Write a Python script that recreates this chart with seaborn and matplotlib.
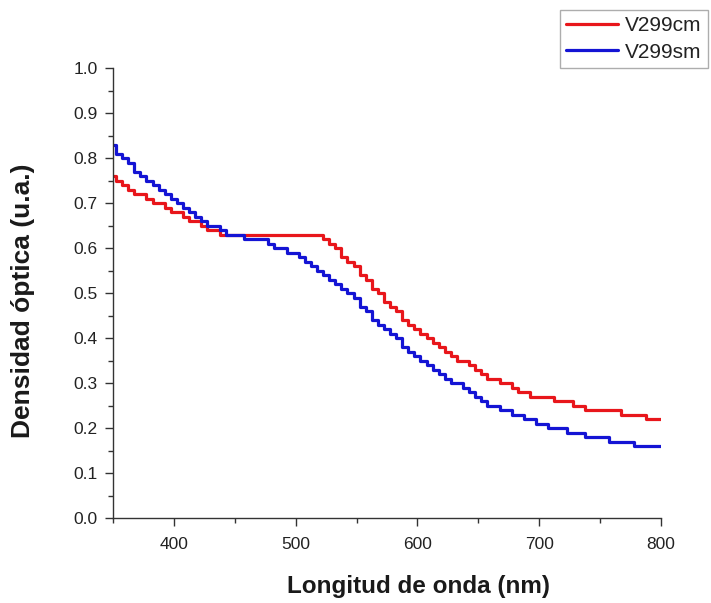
import numpy as np
import pandas as pd
import matplotlib
matplotlib.use("Agg")
import matplotlib.pyplot as plt
import seaborn as sns
from matplotlib.ticker import MultipleLocator, FormatStrFormatter
from matplotlib.lines import Line2D

wavelength = list(range(350, 801, 5))

v299cm = [0.76, 0.75, 0.74, 0.73, 0.72, 0.72, 0.71, 0.70, 0.70, 0.69,
          0.68, 0.68, 0.67, 0.66, 0.66, 0.65, 0.64, 0.64, 0.63, 0.63,
          0.63, 0.63, 0.63, 0.63, 0.63, 0.63, 0.63, 0.63, 0.63, 0.63,
          0.63, 0.63, 0.63, 0.63, 0.63, 0.62, 0.61, 0.60, 0.58, 0.57,
          0.56, 0.54, 0.53, 0.51, 0.50, 0.48, 0.47, 0.46, 0.44, 0.43,
          0.42, 0.41, 0.40, 0.39, 0.38, 0.37, 0.36, 0.35, 0.35, 0.34,
          0.33, 0.32, 0.31, 0.31, 0.30, 0.30, 0.29, 0.28, 0.28, 0.27,
          0.27, 0.27, 0.27, 0.26, 0.26, 0.26, 0.25, 0.25, 0.24, 0.24,
          0.24, 0.24, 0.24, 0.24, 0.23, 0.23, 0.23, 0.23, 0.22, 0.22,
          0.22]

v299sm = [0.83, 0.81, 0.80, 0.79, 0.77, 0.76, 0.75, 0.74, 0.73, 0.72,
          0.71, 0.70, 0.69, 0.68, 0.67, 0.66, 0.65, 0.65, 0.64, 0.63,
          0.63, 0.63, 0.62, 0.62, 0.62, 0.62, 0.61, 0.60, 0.60, 0.59,
          0.59, 0.58, 0.57, 0.56, 0.55, 0.54, 0.53, 0.52, 0.51, 0.50,
          0.49, 0.47, 0.46, 0.44, 0.43, 0.42, 0.41, 0.40, 0.38, 0.37,
          0.36, 0.35, 0.34, 0.33, 0.32, 0.31, 0.30, 0.30, 0.29, 0.28,
          0.27, 0.26, 0.25, 0.25, 0.24, 0.24, 0.23, 0.23, 0.22, 0.22,
          0.21, 0.21, 0.20, 0.20, 0.20, 0.19, 0.19, 0.19, 0.18, 0.18,
          0.18, 0.18, 0.17, 0.17, 0.17, 0.17, 0.16, 0.16, 0.16, 0.16,
          0.16]

series_names = ["V299cm", "V299sm"]
colors = ["#e8161b", "#1414d4"]

df = pd.DataFrame({
    "wl": wavelength * 2,
    "od": v299cm + v299sm,
    "serie": [series_names[0]] * len(wavelength) + [series_names[1]] * len(wavelength),
})

sns.set_theme(style="ticks")
plt.rcParams["font.family"] = ["Liberation Sans", "DejaVu Sans"]

fig = plt.figure(figsize=(7.11, 6.03), dpi=100)
ax = fig.add_axes([113 / 711, 1 - 518 / 603, (661 - 113) / 711, (518 - 68) / 603])

sns.lineplot(data=df, x="wl", y="od", hue="serie", palette=colors,
             drawstyle="steps-mid", linewidth=2.3, ax=ax, legend=False)

ax.set_xlim(350, 800)
ax.set_ylim(0, 1.0)
ax.set_xticks([400, 500, 600, 700, 800])
ax.xaxis.set_minor_locator(MultipleLocator(50))
ax.yaxis.set_major_locator(MultipleLocator(0.1))
ax.yaxis.set_minor_locator(MultipleLocator(0.05))
ax.yaxis.set_major_formatter(FormatStrFormatter("%.1f"))

for s in ["top", "right"]:
    ax.spines[s].set_visible(False)
for s in ["left", "bottom"]:
    ax.spines[s].set_color("#333333")
    ax.spines[s].set_linewidth(1.0)

ax.tick_params(axis="both", which="major", direction="out", length=6, width=1,
               color="#333333", labelsize=12.5, labelcolor="#222222")
ax.tick_params(axis="x", which="major", pad=8)
ax.tick_params(axis="y", which="major", pad=5)
ax.tick_params(axis="both", which="minor", direction="out", length=3.5, width=1,
               color="#333333")

ax.set_xlabel("Longitud de onda (nm)", fontsize=17.5, fontweight="bold",
              color="#1a1a1a")
ax.set_ylabel("Densidad óptica (u.a.)", fontsize=19, fontweight="bold",
              color="#1a1a1a")
ax.xaxis.set_label_coords(0.557, -0.126)
ax.yaxis.set_label_coords(-0.142, 0.482)

handles = [Line2D([0], [0], color=c, lw=2.3) for c in colors]
leg = fig.legend(handles, series_names, loc="upper right",
                 bbox_to_anchor=(708 / 711, 1 - 10 / 603), fontsize=15,
                 frameon=True, fancybox=False, handlelength=2.5,
                 handletextpad=0.35, borderpad=0.3, labelspacing=0.35,
                 borderaxespad=0)
leg.get_frame().set_edgecolor("#999999")
leg.get_frame().set_linewidth(1.0)
for t in leg.get_texts():
    t.set_color("#222222")

fig.savefig("out.png", dpi=100)
